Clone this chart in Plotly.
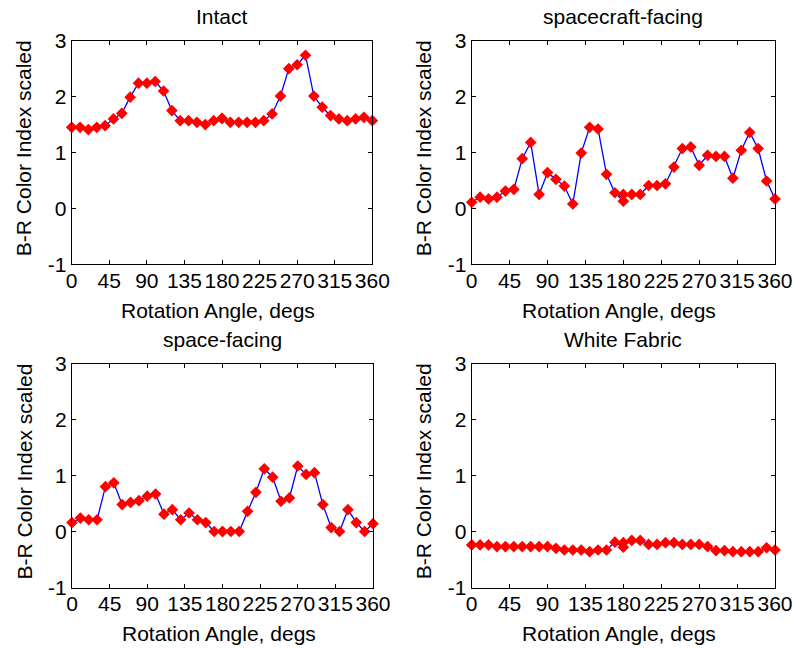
import plotly.graph_objects as go

angles = [0, 10, 20, 30, 40, 50, 60, 70, 80, 90, 100, 110, 120, 130, 140, 150, 160, 170,
          180, 180, 190, 200, 210, 220, 230, 240, 250, 260, 270, 280, 290, 300, 310, 320,
          330, 340, 350, 360]

intact = [1.45, 1.45, 1.41, 1.45, 1.48, 1.60, 1.70, 1.99, 2.24, 2.24, 2.27, 2.10, 1.75, 1.57,
          1.57, 1.54, 1.50, 1.57, 1.61, 1.61, 1.54, 1.54, 1.54, 1.54, 1.57, 1.69, 2.01, 2.50,
          2.57, 2.74, 2.01, 1.81, 1.66, 1.60, 1.57, 1.60, 1.63, 1.57]

spacecraft_facing = [0.11, 0.20, 0.17, 0.20, 0.31, 0.34, 0.89, 1.18, 0.25, 0.64, 0.52, 0.40,
                     0.08, 0.99, 1.45, 1.42, 0.61, 0.28, 0.13, 0.25, 0.25, 0.25, 0.41, 0.41,
                     0.44, 0.74, 1.07, 1.10, 0.77, 0.95, 0.93, 0.93, 0.54, 1.04, 1.36, 1.07,
                     0.49, 0.17]

space_facing = [0.16, 0.24, 0.21, 0.21, 0.80, 0.87, 0.48, 0.52, 0.55, 0.63, 0.67, 0.31, 0.39,
                0.21, 0.33, 0.21, 0.16, 0.0, 0.0, 0.0, 0.0, 0.0, 0.36, 0.70, 1.12, 0.97, 0.54,
                0.60, 1.17, 1.02, 1.05, 0.48, 0.07, 0.0, 0.39, 0.16, 0.0, 0.14]

white_fabric = [-0.24, -0.24, -0.24, -0.27, -0.27, -0.27, -0.27, -0.27, -0.27, -0.27, -0.30,
                -0.33, -0.33, -0.33, -0.36, -0.33, -0.33, -0.19, -0.28, -0.20, -0.16, -0.16,
                -0.23, -0.23, -0.20, -0.20, -0.23, -0.23, -0.23, -0.27, -0.34, -0.34, -0.36,
                -0.36, -0.36, -0.36, -0.29, -0.33]

titles = ["Intact", "spacecraft-facing", "space-facing", "White Fabric"]
series = [intact, spacecraft_facing, space_facing, white_fabric]
x_ticks = [0, 45, 90, 135, 180, 225, 270, 315, 360]
x_ticktext = ["0", "45", "90", "135", "180", "225", "270", "315", "360"]
y_ticks = [-1, 0, 1, 2, 3]
y_ticktext = ["-1", "0", "1", "2", "3"]
x_label = "Rotation Angle, degs"
y_label = "B-R Color Index scaled"

W, H = 793, 648
FONT = "Liberation Sans, Arial, sans-serif"
FS = 21

# panel boxes in window pixels: (left, right, top, bottom)
boxes = [(71.7, 372.3, 40.7, 264.3), (471.7, 775.0, 40.7, 264.3),
         (72.0, 373.0, 363.5, 587.5), (471.7, 775.0, 363.5, 587.5)]

fig = go.Figure()
layout = dict(
    template="none",
    width=W, height=H, margin=dict(l=0, r=0, t=0, b=0, pad=0), autosize=False,
    paper_bgcolor="white", plot_bgcolor="white", showlegend=False,
    font=dict(family=FONT, size=FS, color="black"),
)
annotations = []
for i, (ttl, vals, box) in enumerate(zip(titles, series, boxes)):
    n = "" if i == 0 else str(i + 1)
    l, r, t, b = box
    xd = [l / W, r / W]
    yd = [1 - b / H, 1 - t / H]
    fig.add_trace(go.Scatter(
        x=angles, y=vals, mode="lines+markers",
        xaxis="x" + n, yaxis="y" + n,
        line=dict(color="#0000ff", width=1.3),
        marker=dict(symbol="diamond", size=9, color="#ff0000", line=dict(width=0)),
        cliponaxis=False,
    ))
    axcommon = dict(showgrid=False, zeroline=False, showline=True, linecolor="black",
                    linewidth=1, mirror="ticks", ticks="inside", ticklen=4, tickcolor="black",
                    automargin=False,
                    tickfont=dict(family=FONT, size=FS, color="black"))
    layout["xaxis" + n] = dict(domain=xd, range=[0, 360], tickvals=x_ticks,
                               ticktext=x_ticktext, anchor="y" + n,
                               ticklabelstandoff=-3, **axcommon)
    layout["yaxis" + n] = dict(domain=yd, range=[-1, 3], tickvals=y_ticks,
                               ticktext=y_ticktext, anchor="x" + n, **axcommon)
    cx = (l + r) / 2 / W
    annotations.append(dict(text=ttl, x=cx, y=1 - (t - 24) / H, xref="paper", yref="paper",
                            xanchor="center", yanchor="middle", showarrow=False,
                            font=dict(family=FONT, size=FS, color="black")))
    annotations.append(dict(text=x_label, x=cx - 4 / W, y=1 - (b + 46) / H, xref="paper",
                            yref="paper", xanchor="center", yanchor="middle",
                            showarrow=False, font=dict(family=FONT, size=FS, color="black")))
    annotations.append(dict(text=y_label, x=(l - 48) / W, y=1 - ((t + b) / 2 - 4) / H,
                            xref="paper", yref="paper", xanchor="center", yanchor="middle",
                            textangle=-90, showarrow=False,
                            font=dict(family=FONT, size=FS, color="black")))
layout["annotations"] = annotations
fig.update_layout(**layout)
fig.write_html("out.html", config={"displayModeBar": False},
               post_script="document.body.style.margin='0';document.body.style.overflow='hidden';")
